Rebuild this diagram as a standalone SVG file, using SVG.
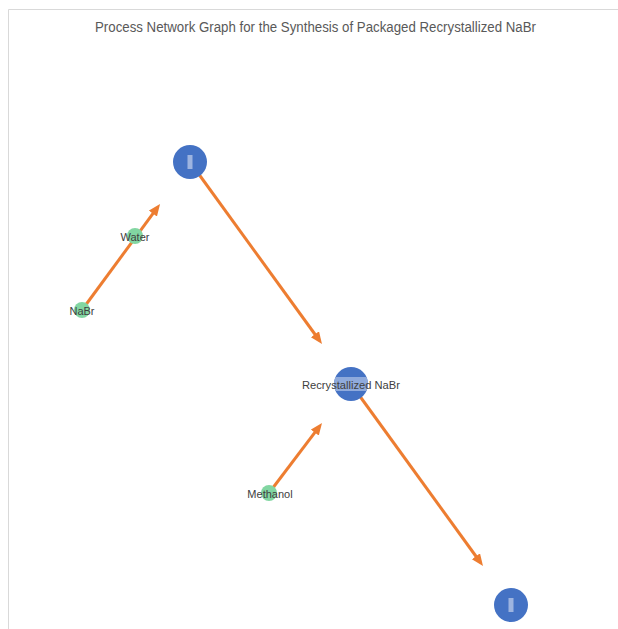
<svg xmlns="http://www.w3.org/2000/svg" width="618" height="629" viewBox="0 0 618 629">
  <style>
    .frame { fill: none; stroke: #d9d9d9; stroke-width: 1; }
    .title { font-family: "Liberation Sans", Arial, sans-serif; font-size: 14px; fill: #595959; text-anchor: middle; }
    .edge { fill: none; stroke: #ED7D31; stroke-width: 3; marker-end: url(#arrow); }
    .big { fill: #4472C4; }
    .bar { fill: #9DB4E0; }
    .small { fill: #82D6A2; }
    .lbl { font-family: "Liberation Sans", Arial, sans-serif; font-size: 11px; fill: #404040; text-anchor: middle; }
  </style>
  <defs>
    <marker id="arrow" markerUnits="userSpaceOnUse" markerWidth="13" markerHeight="11" refX="4" refY="5" orient="auto">
      <path d="M0,0 L12,5 L0,10 z" fill="#ED7D31"/>
    </marker>
    <clipPath id="clipR"><circle cx="351" cy="384" r="17"/></clipPath>
  </defs>
  <rect width="618" height="629" fill="#ffffff"/>
  <path class="frame" d="M8.5,629 L8.5,9.5 L618,9.5"/>
  <text class="title" x="315.5" y="32" textLength="441" lengthAdjust="spacingAndGlyphs">Process Network Graph for the Synthesis of Packaged Recrystallized NaBr</text>

  <g id="connectors">
    <line class="edge" x1="82" y1="310" x2="155.3" y2="210.4"/>
    <line class="edge" x1="190" y1="162" x2="317.3" y2="337.5"/>
    <line class="edge" x1="269" y1="493" x2="317.2" y2="429.4"/>
    <line class="edge" x1="351" y1="384" x2="478.3" y2="559.5"/>
  </g>

  <g id="node-op1">
    <circle class="big" cx="190" cy="162" r="17"/>
    <rect class="bar" x="187.5" y="155" width="5" height="14"/>
  </g>
  <g id="node-water">
    <circle class="small" cx="135" cy="236" r="8"/>
    <text class="lbl" x="135" y="240.5">Water</text>
  </g>
  <g id="node-nabr">
    <circle class="small" cx="82" cy="310" r="8"/>
    <text class="lbl" x="82" y="314.5">NaBr</text>
  </g>
  <g id="node-recryst">
    <circle class="big" cx="351" cy="384" r="17"/>
    <rect x="330" y="377" width="42" height="14" fill="#8FAADC" clip-path="url(#clipR)"/>
    <text class="lbl" x="351" y="388.5" textLength="98" lengthAdjust="spacingAndGlyphs">Recrystallized NaBr</text>
  </g>
  <g id="node-methanol">
    <circle class="small" cx="269" cy="493" r="8"/>
    <text class="lbl" x="270" y="498">Methanol</text>
  </g>
  <g id="node-op2">
    <circle class="big" cx="511" cy="605" r="17"/>
    <rect class="bar" x="508.5" y="598" width="5" height="14"/>
  </g>
</svg>
